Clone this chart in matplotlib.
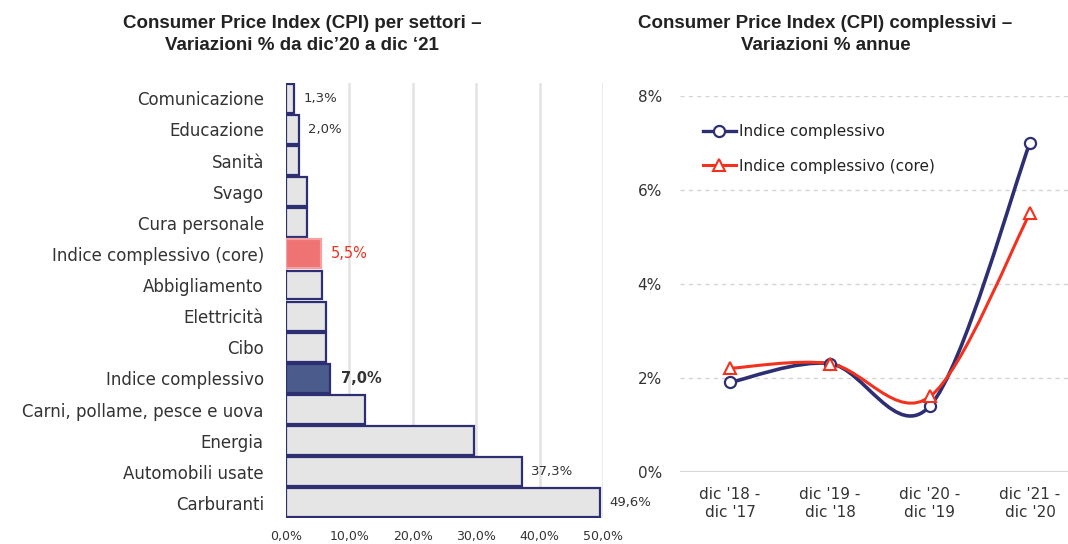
#!/usr/bin/env python3
# -*- coding: UTF-8 -*-

import matplotlib
matplotlib.use('Agg')
import matplotlib.pyplot as plt
from matplotlib.path import Path
from matplotlib.patches import PathPatch
from matplotlib.lines import Line2D

plt.rcParams['font.family'] = ['DejaVu Sans']
TITOLO_FONT = ['Liberation Sans', 'DejaVu Sans']

# --- dati grafico a barre (settori, dic'20 -> dic'21)
settori = ['Comunicazione', 'Educazione', 'Sanità', 'Svago', 'Cura personale',
           'Indice complessivo (core)', 'Abbigliamento', 'Elettricità', 'Cibo',
           'Indice complessivo', 'Carni, pollame, pesce e uova', 'Energia',
           'Automobili usate', 'Carburanti']
variazioni = [1.3, 2.0, 2.0, 3.3, 3.3, 5.5, 5.7, 6.3, 6.3, 7.0, 12.5, 29.6, 37.3, 49.6]
etichette = ['1,3%', '2,0%', None, None, None, '5,5%', None, None, None, '7,0%',
             None, None, '37,3%', '49,6%']
tick_x = [0, 10, 20, 30, 40, 50]
tick_x_lab = ['0,0%', '10,0%', '20,0%', '30,0%', '40,0%', '50,0%']

# --- dati grafico a linee (variazioni annue)
periodi = ["dic '18 -\ndic '17", "dic '19 -\ndic '18", "dic '20 -\ndic '19", "dic '21 -\ndic '20"]
cpi = [1.9, 2.3, 1.4, 7.0]
cpi_core = [2.2, 2.3, 1.6, 5.5]
tick_y = [0, 2, 4, 6, 8]
tick_y_lab = ['0%', '2%', '4%', '6%', '8%']

NAVY = '#2e2f72'
RED = '#f2321e'


def curva(xs, ys):
    # linea smussata stile Excel (bezier tipo catmull-rom)
    pts = list(zip(xs, ys))
    verts = [pts[0]]
    codes = [Path.MOVETO]
    n = len(pts)
    for i in range(n - 1):
        p0 = pts[max(i - 1, 0)]
        p1 = pts[i]
        p2 = pts[i + 1]
        p3 = pts[min(i + 2, n - 1)]
        c1 = (p1[0] + (p2[0] - p0[0]) / 6, p1[1] + (p2[1] - p0[1]) / 6)
        c2 = (p2[0] - (p3[0] - p1[0]) / 6, p2[1] - (p3[1] - p1[1]) / 6)
        verts += [c1, c2, p2]
        codes += [Path.CURVE4] * 3
    return Path(verts, codes)


fig = plt.figure(figsize=(10.68, 5.44), dpi=100)

# ---------------- barre
ax1 = fig.add_axes([0.2678, 0.0469, 0.2968, 0.8011])
facce = []
bordi = []
for s in settori:
    if s == 'Indice complessivo (core)':
        facce.append('#ef7373')
        bordi.append('#f4a0a0')
    elif s == 'Indice complessivo':
        facce.append('#4a5b8c')
        bordi.append(NAVY)
    else:
        facce.append('#e5e5e5')
        bordi.append(NAVY)
pos = list(range(len(settori)))
ax1.barh(pos, variazioni, height=0.93, color=facce, edgecolor=bordi, linewidth=1.6, zorder=3)
ax1.set_ylim(len(settori) - 0.5, -0.5)
ax1.set_xlim(0, 50)
ax1.set_xticks(tick_x)
ax1.set_xticklabels(tick_x_lab, fontsize=9, color='#333333')
ax1.set_yticks(pos)
ax1.set_yticklabels(settori, fontsize=12, color='#333333')
ax1.tick_params(axis='both', length=0)
ax1.tick_params(axis='y', pad=16)
ax1.tick_params(axis='x', pad=8)
for sp in ax1.spines.values():
    sp.set_visible(False)
ax1.xaxis.grid(True, color='#e3e3e3', linewidth=1.8, zorder=0)
ax1.set_axisbelow(True)

for i, lab in enumerate(etichette):
    if lab is None:
        continue
    if settori[i] == 'Indice complessivo (core)':
        ax1.text(variazioni[i] + 1.6, i, lab, va='center', ha='left', fontsize=10.5, color=RED)
    elif settori[i] == 'Indice complessivo':
        ax1.text(variazioni[i] + 1.6, i, lab, va='center', ha='left', fontsize=10.5,
                 color='#333333', fontweight='bold')
    else:
        ax1.text(variazioni[i] + 1.4, i, lab, va='center', ha='left', fontsize=9.5, color='#333333')

fig.text(0.283, 0.972, 'Consumer Price Index (CPI) per settori –\nVariazioni % da dic’20 a dic ‘21',
         ha='center', va='top', fontsize=13.5, fontweight='bold', color='#222222',
         linespacing=1.4, family=TITOLO_FONT)

# ---------------- linee
ax2 = fig.add_axes([0.6367, 0.1329, 0.3633, 0.6912])
xs = list(range(len(periodi)))
ax2.add_patch(PathPatch(curva(xs, cpi), fill=False, edgecolor=NAVY, linewidth=2.6, zorder=3))
ax2.add_patch(PathPatch(curva(xs, cpi_core), fill=False, edgecolor=RED, linewidth=2.2, zorder=4))
ax2.plot(xs, cpi, linestyle='none', marker='o', markersize=8, mfc='white', mec=NAVY, mew=1.6, zorder=5)
ax2.plot(xs, cpi_core, linestyle='none', marker='^', markersize=8, mfc='white', mec=RED, mew=1.5, zorder=6)
ax2.set_xlim(-0.5, 3.38)
ax2.set_ylim(0, 8)
ax2.set_xticks(xs)
ax2.set_xticklabels(periodi, fontsize=11, color='#333333', linespacing=1.25)
ax2.set_yticks(tick_y)
ax2.set_yticklabels(tick_y_lab, fontsize=11, color='#333333')
ax2.tick_params(axis='both', length=0)
ax2.tick_params(axis='y', pad=13)
ax2.tick_params(axis='x', pad=11)
for sp in ax2.spines.values():
    sp.set_visible(False)
for v in tick_y[1:]:
    ax2.axhline(v, color='#d4d4d4', linewidth=1, linestyle=(0, (3, 3)), zorder=1)
ax2.axhline(0, color='#d9d9d9', linewidth=1.6, zorder=1)

maniglie = [Line2D([], [], color=NAVY, linewidth=2.4, marker='o', markersize=8, mfc='white', mec=NAVY, mew=1.6),
            Line2D([], [], color=RED, linewidth=2.2, marker='^', markersize=8, mfc='white', mec=RED, mew=1.5)]
ax2.legend(maniglie, ['Indice complessivo', 'Indice complessivo (core)'], loc='upper left',
           bbox_to_anchor=(0.025, 0.96), frameon=False, fontsize=11, handlelength=2.1,
           handletextpad=0.2, labelspacing=1.25, labelcolor='#222222')

fig.text(0.773, 0.972, 'Consumer Price Index (CPI) complessivi –\nVariazioni % annue',
         ha='center', va='top', fontsize=13.5, fontweight='bold', color='#222222',
         linespacing=1.4, family=TITOLO_FONT)

fig.savefig('out.png', dpi=100)
